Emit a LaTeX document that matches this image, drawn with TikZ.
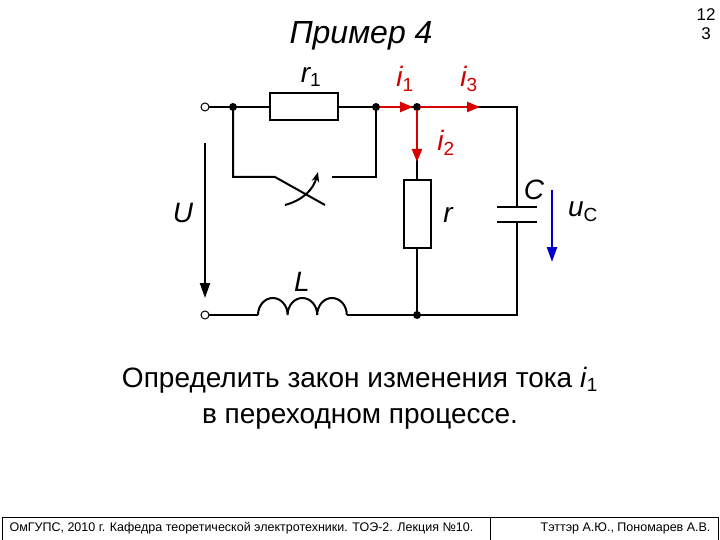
\documentclass[tikz,border=0pt]{standalone}
\usepackage{fontspec}
\setmainfont{Liberation Sans}
\usetikzlibrary{arrows.meta}
\begin{document}
\begin{tikzpicture}[x=1pt,y=-1pt,
  w/.style={line width=2pt},
  box/.style={draw,line width=2pt,fill=white},
  dotn/.style={circle,fill=black,inner sep=0pt,minimum size=8pt},
  term/.style={circle,draw,fill=white,inner sep=0pt,minimum size=8pt,line width=1pt},
  red arr/.style={draw=red!85!black,line width=2.4pt,-{Triangle[length=13pt,width=10pt]}},
  lbl/.style={font=\fontsize{28}{30}\selectfont\itshape},
  rlbl/.style={font=\fontsize{28}{30}\selectfont\itshape,text=red!80!black}]
\useasboundingbox (0,0) rectangle (720,540);
\coordinate (T1) at (205,107); \coordinate (T2) at (205,315);
\coordinate (A) at (233,107); \coordinate (B) at (376,107); \coordinate (J) at (417,107);
\coordinate (RT) at (517,107); \coordinate (RB) at (517,315); \coordinate (D) at (417,315);
\coordinate (SL) at (233,177); \coordinate (SR) at (376,177);
\draw[w] (T1) -- (B) -- (RT) -- (517,207);
\draw[w] (517,222) -- (RB) -- (T2);
\draw[w] (J) -- (D);
\draw[w] (A) -- (SL) -- (275,177) -- (325,205);
\draw[w] (332,177) -- (SR) -- (B);
\draw[line width=2pt,-{Stealth[length=10pt]}] (285,205) to[bend right=30] (318,172);
\node[box,minimum width=68pt,minimum height=27pt] (r1) at (304,107) {};
\node[box,minimum width=27pt,minimum height=68pt] (r) at (417,214) {};
\draw[w] (497,207) -- (537,207); \draw[w] (497,222) -- (537,222);
\fill[white] (258,300) rectangle (347,322);
\draw[w] (258,315) arc[start angle=180,end angle=360,x radius=14.8,y radius=17] arc[start angle=180,end angle=360,x radius=14.8,y radius=17] arc[start angle=180,end angle=360,x radius=14.8,y radius=17];
\node[dotn] (a) at (A) {}; \node[dotn] (b) at (B) {}; \node[dotn] (j) at (J) {}; \node[dotn] (d) at (D) {};
\node[term] (t1) at (T1) {}; \node[term] (t2) at (T2) {};
\draw[line width=2pt,-{Triangle[length=15pt,width=10pt]}] (205,143) -- (205,298);
\draw[draw=blue!80!black,line width=2.4pt,-{Triangle[length=15pt,width=10pt]}] (552,190) -- (552,262);
\draw[red arr] (380,107) -- (413,107);
\draw[red arr] (420,107) -- (480,107);
\draw[red arr] (417,110) -- (417,162);
\node[font=\fontsize{32}{34}\selectfont\itshape] (title) at (361,36) {Пример 4};
\node[font=\fontsize{17}{19}\selectfont,align=center] (pg) at (706,24) {12\\3};
\node[lbl] (lr1) at (311,77) {r\textsubscript{\fontsize{19}{19}\selectfont\upshape 1}};
\node[rlbl] (li1) at (405,79) {i\textsubscript{\fontsize{19}{19}\selectfont\upshape 1}};
\node[rlbl] (li3) at (469,79) {i\textsubscript{\fontsize{19}{19}\selectfont\upshape 3}};
\node[rlbl] (li2) at (446,143) {i\textsubscript{\fontsize{19}{19}\selectfont\upshape 2}};
\node[lbl] (lU) at (183,213) {U};
\node[lbl] (lr) at (448,215) {r};
\node[lbl] (lC) at (534,190) {C};
\node[lbl] (luc) at (583,212) {u\textsubscript{\fontsize{19}{19}\selectfont\upshape C}};
\node[lbl] (lL) at (302,282) {L};
\node[font=\fontsize{28}{36}\selectfont,align=center] (task) at (360,398) {Определить закон изменения тока \textit{i}\textsubscript{\fontsize{19}{19}\selectfont 1}\\в переходном процессе.};
\draw[line width=1pt] (2,517) rectangle (718,540);
\draw[line width=1pt] (490,517) -- (490,540);
\node[font=\fontsize{12.5}{13}\selectfont,anchor=west] (f1) at (6,528.5) {ОмГУПС, 2010 г. Кафедра теоретической электротехники. ТОЭ-2. Лекция №10.};
\node[font=\fontsize{12.5}{13}\selectfont,anchor=east] (f2) at (714,528.5) {Тэттэр А.Ю., Пономарев А.В.};
\end{tikzpicture}
\end{document}
